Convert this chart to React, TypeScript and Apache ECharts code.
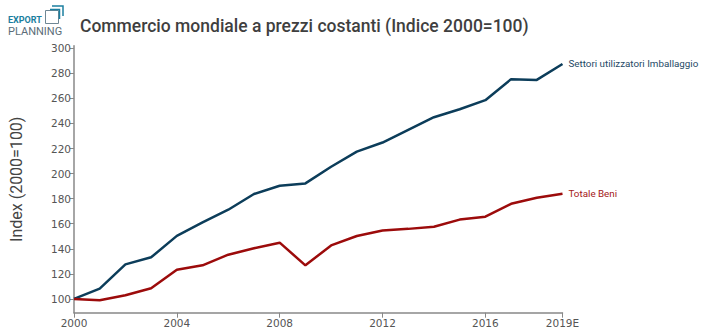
import React, { useEffect, useRef } from "react";
import * as echarts from "echarts";

const years = ["2000","2001","2002","2003","2004","2005","2006","2007","2008","2009","2010","2011","2012","2013","2014","2015","2016","2017","2018","2019E"];
const packagingSectors = [100, 108.2, 127.6, 133.2, 150.3, 161.0, 171.2, 183.7, 190.3, 192.2, 205.5, 217.5, 224.8, 234.9, 245.0, 251.4, 258.6, 275.4, 274.8, 287.5];
const totalGoods = [100, 99.0, 102.9, 108.5, 123.2, 126.8, 135.3, 140.4, 144.9, 126.8, 142.7, 150.2, 154.6, 155.9, 157.6, 163.3, 165.6, 175.9, 180.7, 183.9];
const yTicks = [100, 120, 140, 160, 180, 200, 220, 240, 260, 280, 300];
const seriesNames = ["Settori utilizzatori Imballaggio", "Totale Beni"];
const seriesColors = ["#0c3d5a", "#9c0b0b"];

export default function App() {
  const ref = useRef<HTMLDivElement>(null);
  useEffect(() => {
    if (!ref.current) return;
    const chart = echarts.init(ref.current, null, { renderer: "svg" });
    const labelIdx = (i: number) => i % 4 === 0 || i === years.length - 1;
    chart.setOption({
      animation: false,
      backgroundColor: "#ffffff",
      title: {
        text: "Commercio mondiale a prezzi costanti (Indice 2000=100)",
        left: 75,
        top: 12,
        textStyle: { fontFamily: "Roboto", fontSize: 17.5, fontWeight: 500, color: "#3f3f3f" },
      },
      graphic: [
        { type: "text", left: 8, top: 15, style: { text: "EXPORT", font: "bold 9px Roboto", fill: "#1b7fa0" } },
        { type: "text", left: 8, top: 26, style: { text: "PLANNING", font: "11px Roboto", fill: "#5b6d78" } },
        { type: "rect", shape: { x: 45.5, y: 10.5, width: 13, height: 13 }, style: { fill: "none", stroke: "#6f8794", lineWidth: 1 } },
        { type: "polyline", shape: { points: [[52, 6], [63, 6], [63, 16]] }, style: { fill: "none", stroke: "#1b7fa0", lineWidth: 1.5 } },
        { type: "polyline", shape: { points: [[50, 9.5], [59.5, 9.5], [59.5, 19]] }, style: { fill: "none", stroke: "#1b7fa0", lineWidth: 1.5 } },
      ],
      grid: { left: 72, right: 146.5, top: 45.8, bottom: 21.3, containLabel: false },
      xAxis: {
        type: "category",
        data: years,
        boundaryGap: false,
        axisLine: { lineStyle: { color: "#888888", width: 1.5 } },
        axisTick: { show: true, length: 5, interval: (i: number) => labelIdx(i), lineStyle: { color: "#888888" } },
        axisLabel: {
          interval: (i: number) => labelIdx(i),
          color: "#555555",
          fontFamily: "DejaVu Sans",
          fontSize: 10.5,
          margin: 5,
        },
        splitLine: { show: false },
      },
      yAxis: {
        type: "value",
        min: 89,
        max: 302,
        name: "Index (2000=100)",
        nameLocation: "middle",
        nameGap: 50,
        nameTextStyle: { fontFamily: "Roboto", fontSize: 16, color: "#444444" },
        axisLine: { show: true, lineStyle: { color: "#888888", width: 1.5 } },
        axisTick: { show: true, length: 4, customValues: yTicks, lineStyle: { color: "#888888" } },
        axisLabel: {
          customValues: yTicks,
          color: "#555555",
          fontFamily: "DejaVu Sans",
          fontSize: 10.5,
          margin: 3,
        },
        splitLine: { show: false },
      },
      series: [
        {
          name: seriesNames[0],
          type: "line",
          data: packagingSectors,
          symbol: "none",
          lineStyle: { color: seriesColors[0], width: 2.5 },
          itemStyle: { color: seriesColors[0] },
          endLabel: { show: true, formatter: "{a}", color: "#1f4a66", fontFamily: "Roboto", fontSize: 9.8, distance: 6 },
        },
        {
          name: seriesNames[1],
          type: "line",
          data: totalGoods,
          symbol: "none",
          lineStyle: { color: seriesColors[1], width: 2.5 },
          itemStyle: { color: seriesColors[1] },
          endLabel: { show: true, formatter: "{a}", color: "#a51818", fontFamily: "Roboto", fontSize: 9.8, distance: 6 },
        },
      ],
    });
    return () => chart.dispose();
  }, []);
  return <div ref={ref} style={{ width: 709, height: 334, position: "absolute", left: 0, top: 0 }} />;
}
